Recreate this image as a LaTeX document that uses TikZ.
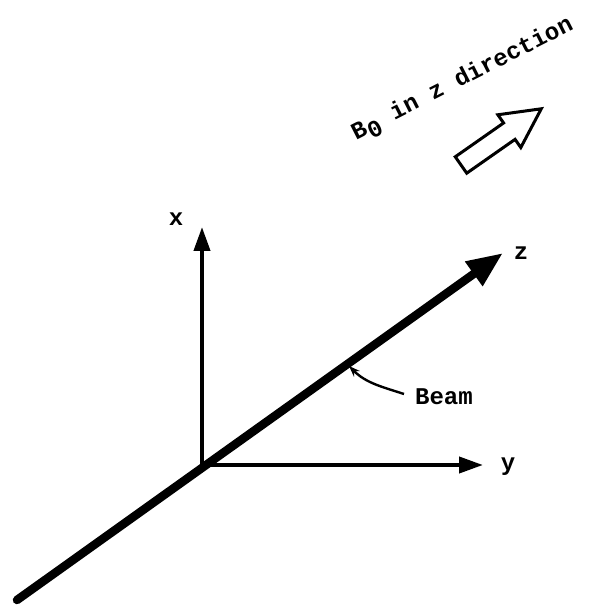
\documentclass[tikz,border=0pt]{standalone}
\usepackage{fontspec}
\setmonofont{Liberation Mono}
\usetikzlibrary{arrows.meta}
\tikzset{
  ax/.style={line width=4pt, -{Triangle[length=24pt, width=16pt]}},
  beam/.style={line width=8.5pt, line cap=round, -{Triangle[length=36pt, width=28pt]}},
  lbl/.style={font=\ttfamily\bfseries\fontsize{24}{24}\selectfont, inner sep=1pt},
  lead/.style={line width=2.4pt, -{Stealth[length=11pt, width=8pt]}},
}

\begin{document}
\begin{tikzpicture}[x=1pt, y=1pt]
    \useasboundingbox (0,0) rectangle (589,608);
    % axes
    \coordinate (o) at (202,143);
    \coordinate (xt) at (202,381);
    \coordinate (yt) at (483,143);
    \coordinate (zs) at (17,8);
    \coordinate (zt) at (503,355);
    \draw[ax] (o) -- (xt);
    \draw[ax] (o) -- (yt);
    \draw[beam] (zs) -- (zt);
    \node[lbl] (xl) at (176,389) {x};
    \node[lbl] (yl) at (508,141) {y};
    \node[lbl] (zl) at (521,355) {z};
    % beam label
    \node[lbl] (bm) at (444,211) {Beam};
    \coordinate (bp) at (349,242);
    \draw[lead] (bm.west) ++(-10,3) to[out=162, in=-45] (bp);
    % field direction
    \node[lbl, rotate=27] (bo) at (463,528) {B\raisebox{-0.55ex}{0} in z direction};
    \begin{scope}[shift={(461,443)}, rotate=35]
      \draw[line width=3pt] (0,-10) -- (59,-10) -- (59,-20) -- (98,0)
        -- (59,20) -- (59,10) -- (0,10) -- cycle;
    \end{scope}
\end{tikzpicture}
\end{document}
